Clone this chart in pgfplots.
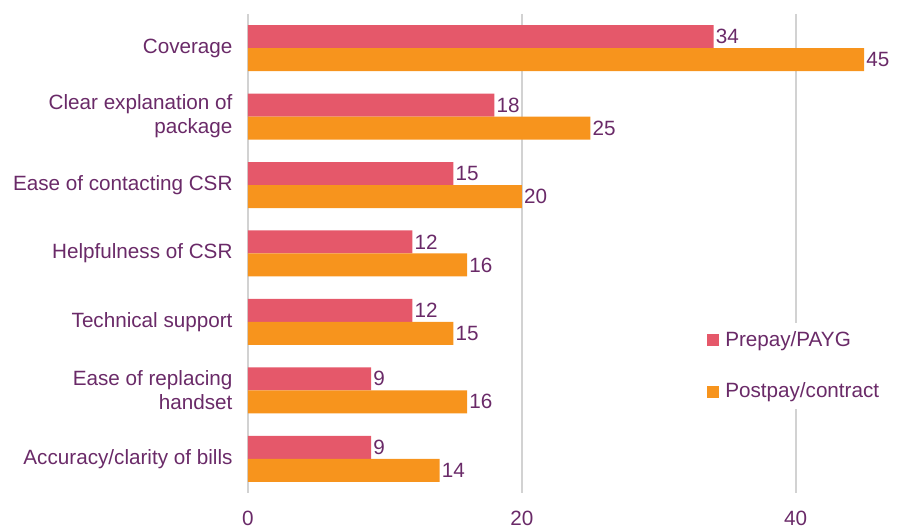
\documentclass[border=0pt]{standalone}
\usepackage{fontspec}
\setmainfont{Liberation Sans}
\usepackage{pgfplots}
\pgfplotsset{compat=1.18}
\definecolor{prered}{HTML}{E5586A}
\definecolor{postorange}{HTML}{F7941D}
\definecolor{txtpurple}{HTML}{6A2A68}
\definecolor{gridgray}{HTML}{D2D2D2}
\begin{document}
\begin{tikzpicture}
\fontsize{15.5}{18}\selectfont
\begin{axis}[
  at={(0,0)}, anchor=south west,
  scale only axis,
  width=486.75pt, height=359.25pt,
  xmin=0, xmax=47.4,
  ymin=-0.5, ymax=6.5,
  y dir=reverse,
  /pgf/number format/assume math mode=true,
  xbar, bar width=17.25pt,
  axis x line*=bottom, axis y line*=left,
  x axis line style={draw=none},
  y axis line style={draw=gridgray, line width=1.6pt, -},
  xtick={0,20,40},
  xmajorgrids, grid style={draw=gridgray, line width=1.6pt},
  major x tick style={draw=none},
  xticklabel style={text=txtpurple, yshift=-8pt},
  ytick={0,1,2,3,4,5,6},
  yticklabels={Coverage,{Clear explanation of\\package},Ease of contacting CSR,Helpfulness of CSR,Technical support,{Ease of replacing\\handset},Accuracy/clarity of bills},
  yticklabel style={text=txtpurple, align=right, xshift=-2pt},
  major y tick style={draw=none},
  extra y ticks={-0.5,0.5,1.5,2.5,3.5,4.5,5.5,6.5},
  extra y tick labels={},
  extra y tick style={major tick length=5.5pt, tick align=outside, major tick style={draw=gridgray, line width=1.6pt}},
  nodes near coords,
  nodes near coords style={text=txtpurple, anchor=west, inner sep=1.5pt},
  legend style={at={(0.699,0.355)}, anchor=north west, draw=none, fill=white, text=txtpurple, row sep=21pt, inner sep=4pt},
  legend cell align=left,
  legend image code/.code={\fill[#1] (0pt,-4.5pt) rectangle (9pt,4.5pt); \path (11.5pt,0pt);},
]
\addplot[fill=prered, draw=none, bar shift=8.625pt] coordinates {(34,0) (18,1) (15,2) (12,3) (12,4) (9,5) (9,6)};
\addplot[fill=postorange, draw=none, bar shift=-8.625pt] coordinates {(45,0) (25,1) (20,2) (16,3) (15,4) (16,5) (14,6)};
\legend{Prepay/PAYG,Postpay/contract}
\end{axis}
\pgfresetboundingbox
\path (-186pt,-27.75pt) rectangle (486.75pt,369.75pt);
\end{tikzpicture}
\end{document}
